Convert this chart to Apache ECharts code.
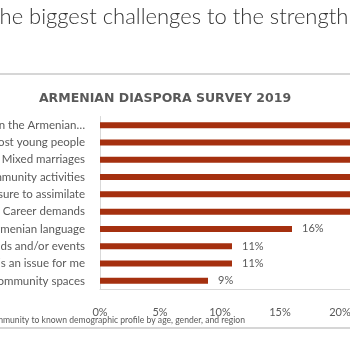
<!DOCTYPE html>
<html>
<head>
<meta charset="utf-8">
<script src="https://cdn.jsdelivr.net/npm/echarts@6/dist/echarts.min.js"></script>
<style>
  html, body { margin: 0; padding: 0; background: #fff; }
  #chart { width: 350px; height: 350px; }
</style>
</head>
<body>
<div id="chart"></div>
<script>
// survey answers, top to bottom as shown
const categories = [
  'Divisions in the Armenian…',
  'Disinterest among most young people',
  'Mixed marriages',
  'Lack of community activities',
  'Pressure to assimilate',
  'Career demands',
  'Loss of the Armenian language',
  'Cost of community funds and/or events',
  'None of these is an issue for me',
  'Lack of community spaces'
]
// percent of respondents (top six run off the slide, estimated)
const values = [37, 33, 29, 27, 25, 22, 16, 11, 11, 9]
const tickMin = 0
const tickMax = 40
const tickStep = 5

const slideTitle = 'The biggest challenges to the strength of the community'
const chartTitle = 'ARMENIAN DIASPORA SURVEY 2019'
const footnote = 'Survey results weighted within each community to known demographic profile by age, gender, and region'

const chart = echarts.init(document.getElementById('chart'))
const gray = '#595959'
const font = 'Lato, "Open Sans", sans-serif'

const option = {
  animation: false,
  backgroundColor: '#fff',
  title: {
    text: chartTitle,
    left: 160,
    top: 87,
    textAlign: 'center',
    textStyle: {
      fontFamily: '"DejaVu Sans", sans-serif',
      fontSize: 12.5,
      fontWeight: 'bold',
      color: gray,
    },
  },
  graphic: [
    {
      type: 'text',
      left: -13,
      top: 6,
      style: {
        text: slideTitle,
        font: '300 22px Lato, sans-serif',
        fill: '#333',
      },
    },
    {
      type: 'line',
      shape: { x1: 0, y1: 74, x2: 350, y2: 74 },
      style: { stroke: '#d6d6d6', lineWidth: 2 },
    },
    {
      type: 'text',
      x: 245,
      y: 320,
      style: {
        text: footnote,
        font: '8.6px Lato, sans-serif',
        fill: gray,
        align: 'right',
        verticalAlign: 'middle',
      },
    },
    {
      type: 'line',
      shape: { x1: 0, y1: 328, x2: 350, y2: 328 },
      style: { stroke: '#d6d6d6', lineWidth: 2 },
    },
  ],
  grid: {
    left: 100,
    top: 116.5,
    width: (tickMax - tickMin) * 12,
    height: 173,
    containLabel: false,
    outerBoundsMode: 'none',
  },
  xAxis: {
    type: 'value',
    min: tickMin,
    max: tickMax,
    interval: tickStep,
    axisLine: { show: true, lineStyle: { color: '#d9d9d9' } },
    axisTick: { show: false },
    splitLine: { show: false },
    axisLabel: {
      margin: 17,
      color: gray,
      fontFamily: font,
      fontSize: 11,
      formatter: '{value}%',
    },
  },
  yAxis: {
    type: 'category',
    inverse: true,
    data: categories,
    axisLine: { show: true, lineStyle: { color: '#d9d9d9' } },
    axisTick: { show: false },
    axisLabel: {
      margin: 15,
      color: gray,
      fontFamily: font,
      fontSize: 11.5,
    },
  },
  series: [
    {
      type: 'bar',
      barWidth: 6,
      data: values,
      itemStyle: { color: '#A5300F' },
      label: {
        show: true,
        position: 'right',
        distance: 10,
        color: gray,
        fontFamily: font,
        fontSize: 11,
        formatter: '{c}%',
      },
    },
  ],
}

chart.setOption(option)
</script>
</body>
</html>
